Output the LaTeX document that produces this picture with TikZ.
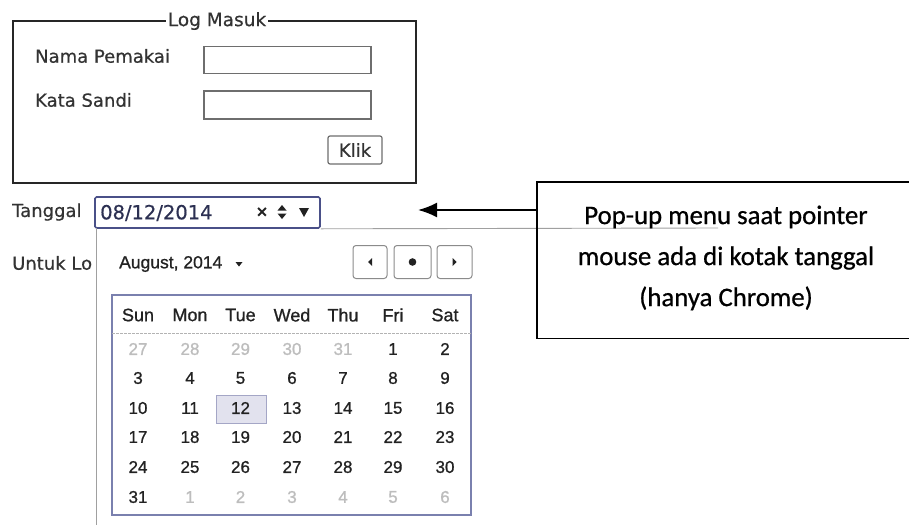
\documentclass[tikz,border=0pt]{standalone}
\usepackage{fontspec}
\setmainfont{DejaVu Sans}[FakeBold=0.5]
\newfontfamily\calfont{Liberation Sans}[FakeBold=0.9]
\newfontfamily\notefont{Carlito}[FakeBold=0.7]
\usetikzlibrary{arrows.meta}

\definecolor{labelgray}{HTML}{333333}
\definecolor{fieldgray}{HTML}{6E6E6E}
\definecolor{dateblue}{HTML}{4A5088}
\definecolor{calblue}{HTML}{7A80AE}
\definecolor{calnum}{HTML}{222222}
\definecolor{calfaint}{HTML}{BDBDBD}
\definecolor{hlfill}{HTML}{E2E2EE}
\definecolor{hlborder}{HTML}{A4A6C6}
\definecolor{popgray}{HTML}{A0A0A0}

\tikzset{
  uilabel/.style={anchor=west, inner sep=0pt, text=labelgray,
    font=\fontsize{18}{20}\selectfont},
  inputbox/.style={draw=fieldgray, line width=1.2pt, inner sep=0pt,
    minimum width=167pt, minimum height=27pt},
  navbtn/.style={draw=fieldgray!80, line width=1pt, rounded corners=3pt,
    inner sep=0pt, minimum height=33pt},
  calhead/.style={inner sep=0pt, text=calnum, font=\calfont\fontsize{18}{20}\selectfont},
  calday/.style={inner sep=0pt, text=calnum, font=\calfont\fontsize{17}{20}\selectfont},
  calout/.style={calday, text=calfaint},
  popline/.style={draw=popgray, line width=0.9pt},
  glyph/.style={fill=calnum, draw=none},
}

\begin{document}
\begin{tikzpicture}[x=1pt, y=-1pt]
\useasboundingbox[fill=white] (0,0) rectangle (909,525);

% ---- login panel ----
\node[draw=black!85, line width=1.6pt, minimum width=403pt, minimum height=162pt,
      inner sep=0pt] (loginbox) at (214.5,102) {};
\node[fill=white, inner xsep=2pt, inner ysep=0pt, text=labelgray,
      font=\fontsize{18.5}{20}\selectfont] (logtitle) at (217,21) {Log Masuk};

\node[uilabel] (lblnama) at (35,56) {Nama Pemakai};
\node[inputbox] (fieldnama) at (287.5,60) {};
\node[uilabel] (lblsandi) at (35,100) {Kata Sandi};
\node[inputbox, minimum height=28pt] (fieldsandi) at (287.5,105) {};
\node[draw=fieldgray, line width=1.2pt, rounded corners=2pt, minimum width=54pt,
      minimum height=28pt, inner sep=0pt, text=labelgray,
      font=\fontsize{18}{20}\selectfont] (klik) at (355,150) {Klik};

% ---- date field ----
\node[uilabel] (lbltanggal) at (12,212) {Tanggal};
\node[draw=dateblue, line width=1.6pt, rounded corners=1.5pt, minimum width=225pt,
      minimum height=31pt, inner sep=0pt] (datefield) at (207.5,212.5) {};
\node[uilabel, text=dateblue!60!black, font=\fontsize{19.5}{20}\selectfont]
      (datetext) at (100,213) {08/12/2014};
\node[inner sep=0pt, text=calnum, font=\bfseries\fontsize{15}{18}\selectfont]
      (clearmark) at (262,212) {×};
% spinner (up over down) and drop-down glyphs; y grows downward here,
% so shifts in pt are taken with the opposite sign
\coordinate (spin) at (282,212);
\fill[glyph] ([xshift=-4.5pt,yshift=1.5pt]spin) -- ([xshift=4.5pt,yshift=1.5pt]spin)
      -- ([yshift=7pt]spin) -- cycle;
\fill[glyph] ([xshift=-4.5pt,yshift=-1.5pt]spin) -- ([xshift=4.5pt,yshift=-1.5pt]spin)
      -- ([yshift=-7pt]spin) -- cycle;
\coordinate (dropdn) at (304,212);
\fill[glyph] ([xshift=-5pt,yshift=4pt]dropdn) -- ([xshift=5pt,yshift=4pt]dropdn)
      -- ([yshift=-5pt]dropdn) -- cycle;

% ---- pop-up frame ----
\coordinate (popcorner) at (96,228);
\coordinate (popright) at (718,228);
\coordinate (popbottom) at (96,525);
\draw[popline] (datefield.south east) -- (popright);
\draw[popline] (popcorner) -- (popbottom);

\node[uilabel] (lbluntuk) at (12,263) {Untuk Lo};

% month selector
\node[anchor=west, inner sep=0pt, text=calnum,
      font=\calfont\fontsize{17.5}{20}\selectfont] (month) at (119,264) {August, 2014};
\coordinate (monthdrop) at (239,264);
\fill[glyph] ([xshift=-3.5pt,yshift=2pt]monthdrop) -- ([xshift=3.5pt,yshift=2pt]monthdrop)
      -- ([yshift=-2.5pt]monthdrop) -- cycle;

% navigation buttons
\node[navbtn, minimum width=34pt] (navprev) at (370,262) {};
\node[navbtn, minimum width=37pt] (navtoday) at (412.5,262) {};
\node[navbtn, minimum width=35pt] (navnext) at (454.5,262) {};
\fill[glyph] ([xshift=-2pt]navprev.center) -- ([xshift=2pt,yshift=-4pt]navprev.center)
      -- ([xshift=2pt,yshift=4pt]navprev.center) -- cycle;
\fill[glyph] (navtoday.center) circle (3.8pt);
\fill[glyph] ([xshift=2pt]navnext.center) -- ([xshift=-2pt,yshift=-4pt]navnext.center)
      -- ([xshift=-2pt,yshift=4pt]navnext.center) -- cycle;

% ---- calendar grid ----
\node[draw=calblue, line width=1.3pt, minimum width=359pt, minimum height=220pt,
      inner sep=0pt] (calendar) at (291.5,405) {};
\coordinate (headsepL) at (112,333);
\coordinate (headsepR) at (471,333);
\draw[draw=popgray!80, line width=0.9pt, dash pattern=on 3pt off 1pt] (headsepL) -- (headsepR);

% highlighted day
\node[fill=hlfill, draw=hlborder, line width=1pt, minimum width=50pt,
      minimum height=28pt, inner sep=0pt] (today) at (241,409) {};

\def\rowy{{349,378,408,437,467,497}}
\def\colx{{138,190,240.5,292,343,393,445}}

\foreach \d [count=\i] in {Sun,Mon,Tue,Wed,Thu,Fri,Sat} {
  \pgfmathsetmacro{\cx}{\colx[\i-1]}
  \node[calhead] (head\i) at (\cx,315) {\d};
}

% first row: trailing days of July
\foreach \n [count=\c] in {27,28,29,30,31} {
  \pgfmathsetmacro{\cx}{\colx[\c-1]}
  \node[calout] (prev\c) at (\cx,349) {\n};
}
\node[calday] (day1) at (393,349) {1};
\node[calday] (day2) at (445,349) {2};
% rows 2-5
\foreach \r in {1,...,4} {
  \foreach \c in {1,...,7} {
    \pgfmathtruncatemacro{\n}{2+(\r-1)*7+\c}
    \pgfmathsetmacro{\cx}{\colx[\c-1]}
    \pgfmathsetmacro{\cy}{\rowy[\r]}
    \node[calday] (day\n) at (\cx,\cy) {\n};
  }
}
% last row
\node[calday] (day31) at (138,497) {31};
\foreach \n [count=\c] in {1,...,6} {
  \pgfmathsetmacro{\cx}{\colx[\c]}
  \node[calout] (next\c) at (\cx,497) {\n};
}

% ---- callout ----
\node[minimum width=372pt, minimum height=156pt, inner sep=0pt, anchor=north west]
      (callout) at (537,182) {};
\draw[line width=1.8pt] (callout.north east) -- (callout.north west)
      -- (callout.south west) -- (callout.south east);
\node[align=center, inner sep=0pt, text=black,
      font=\notefont\fontsize{26.8}{41}\selectfont] (calloutText) at (726,258)
      {Pop-up menu saat pointer\\ mouse ada di kotak tanggal\\ (hanya Chrome)};
\coordinate (arrowtip) at (418,210);
\draw[line width=2pt, -{Latex[length=19pt,width=15pt]}]
      (callout.west |- arrowtip) -- (arrowtip);
\end{tikzpicture}
\end{document}
